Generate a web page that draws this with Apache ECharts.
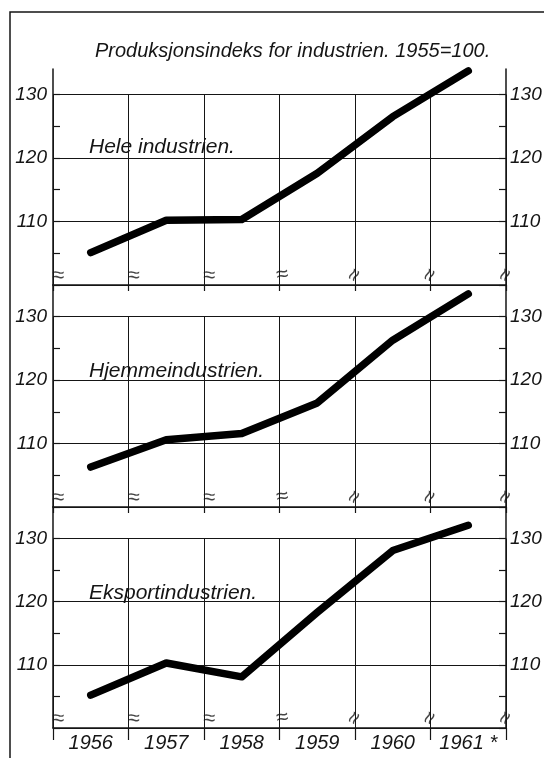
<!DOCTYPE html>
<html>
<head>
<meta charset="utf-8">
<script src="https://cdn.jsdelivr.net/npm/echarts@6/dist/echarts.min.js"></script>
<style>
  html, body { margin: 0; padding: 0; background: #fff; }
  #chart { width: 544px; height: 758px; }
</style>
</head>
<body>
<div id="chart"></div>
<script>
// data (index, 1955 = 100)
const years = ['1956', '1957', '1958', '1959', '1960', '1961']
const yearLabels = ['1956', '1957', '1958', '1959', '1960', '1961 *']
const hele = [105.1, 110.2, 110.3, 117.6, 126.5, 133.7]
const hjemme = [106.3, 110.6, 111.6, 116.4, 126.3, 133.6]
const eksport = [105.2, 110.3, 108.1, 118.3, 128.1, 132.1]
const panelNames = ['Hele industrien.', 'Hjemmeindustrien.', 'Eksportindustrien.']
const mainTitle = 'Produksjonsindeks for industrien. 1955=100.'
const yLabelValues = [110, 120, 130]
const breakPos = [0, 1, 2, 3, 4, 5, 6] // category borders, where the axis is broken

const ink = '#151515'
const font = 'Liberation Sans'
const H = 758
// the little break marks turn more and more towards the right
const breakRot = [0, 0, 0, 10, 60, 65, 65]
const breakOff = [5, 5, 5, 3, 0, 0, 0]

// pixel layout of the three stacked panels
const panels = [
  { data: hele, top: 69, bottom: 285, max: 134 },
  { data: hjemme, top: 285, bottom: 507, max: 135 },
  { data: eksport, top: 507, bottom: 728, max: 135 }
]
const gridLeft = 53
const gridRight = 38

let grid = [], xAxis = [], yAxis = [], series = [], title = []

title.push({
  text: mainTitle, left: 90, top: 36,
  textStyle: { fontFamily: font, fontStyle: 'italic', fontWeight: 'normal', fontSize: 20, color: ink }
})

panels.forEach((p, i) => {
  const last = i === panels.length - 1
  const y130 = p.bottom - 30 * (p.bottom - p.top) / (p.max - 100)
  // full panel: line, y axes both sides
  grid.push({ left: gridLeft, right: gridRight, top: p.top, bottom: H - p.bottom, outerBoundsMode: 'none' })
  // gridded part, from 130 down to the base line
  grid.push({ left: gridLeft, right: gridRight, top: y130, bottom: H - p.bottom, outerBoundsMode: 'none' })
  const gA = 2 * i, gB = 2 * i + 1

  xAxis.push({ type: 'category', gridIndex: gA, data: years, show: false })
  xAxis.push({ type: 'value', gridIndex: gA, min: 0, max: 6, show: false })
  xAxis.push({
    type: 'category', gridIndex: gB, data: years, boundaryGap: true,
    axisLine: { show: true, lineStyle: { color: ink, width: 1.5 } },
    axisTick: { show: true, length: last ? 12 : 6, lineStyle: { color: ink, width: 1.2 } },
    splitLine: { show: true, lineStyle: { color: ink, width: 1 } },
    axisLabel: {
      show: last, margin: 5, fontFamily: font, fontStyle: 'italic', fontSize: 20, color: ink,
      formatter: (v, idx) => yearLabels[idx]
    }
  })

  const sideAxis = pos => ({
    type: 'value', gridIndex: gA, position: pos, min: 100, max: p.max, interval: 5,
    axisLine: { show: true, onZero: false, lineStyle: { color: ink, width: 1.5 } },
    axisTick: { show: true, inside: true, length: 7, lineStyle: { color: ink, width: 1.2 } },
    splitLine: { show: false },
    axisLabel: {
      margin: pos === 'left' ? 6 : 4, fontFamily: font, fontStyle: 'italic', fontSize: 19, color: ink,
      showMaxLabel: false,
      formatter: v => yLabelValues.includes(v) ? String(v) : ''
    }
  })
  yAxis.push(sideAxis('left'))
  yAxis.push(sideAxis('right'))
  yAxis.push({
    type: 'value', gridIndex: gB, min: 100, max: 130, interval: 10,
    axisLine: { show: false }, axisTick: { show: false }, axisLabel: { show: false },
    splitLine: { show: true, lineStyle: { color: ink, width: 1 } }
  })

  series.push({
    type: 'line', xAxisIndex: 3 * i, yAxisIndex: 3 * i, data: p.data,
    symbol: 'none', clip: false, z: 5,
    lineStyle: { color: '#000', width: 7.5, cap: 'round', join: 'round' }
  })
  // break marks near the base of each border line
  series.push({
    type: 'scatter', xAxisIndex: 3 * i + 1, yAxisIndex: 3 * i, silent: true,
    symbolSize: 1, itemStyle: { color: 'rgba(0,0,0,0)' },
    data: breakPos.map((b, j) => ({ value: [b, 101.5], label: { rotate: breakRot[j], offset: [breakOff[j], 0] } })),
    label: { show: true, position: 'inside', formatter: '\u2248', fontSize: 22, color: ink, fontFamily: font }
  })

  title.push({
    text: panelNames[i], left: 84, top: [132, 356, 578][i],
    textStyle: { fontFamily: font, fontStyle: 'italic', fontWeight: 'normal', fontSize: 21, color: ink }
  })
})

const chart = echarts.init(document.getElementById('chart'), null, { renderer: 'canvas' })
chart.setOption({
  backgroundColor: '#fff',
  animation: false,
  title, grid, xAxis, yAxis, series,
  graphic: [{
    type: 'polyline', silent: true,
    shape: { points: [[10, H], [10, 12], [544, 12]] },
    style: { stroke: ink, lineWidth: 1.5, fill: null }
  }]
})
</script>
</body>
</html>
